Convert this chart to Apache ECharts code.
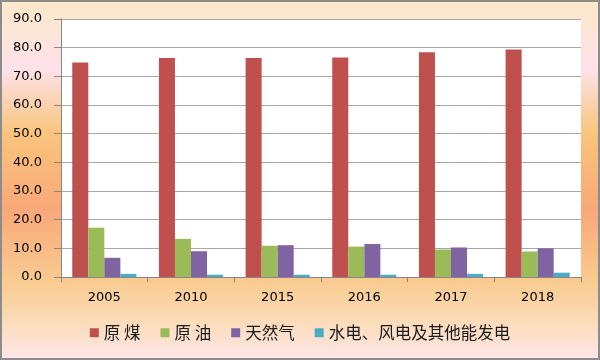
<!DOCTYPE html>
<html><head><meta charset="utf-8">
<script src="https://cdn.jsdelivr.net/npm/echarts@6/dist/echarts.min.js"></script>
<style>html,body{margin:0;padding:0;}#c{width:600px;height:360px;}</style>
</head><body><div id="c"></div>
<script>
const categories = ['2005','2010','2015','2016','2017','2018'];
const seriesNames = ['原 煤','原 油','天然气','水电、风电及其他能发电'];
const coal = [74.8, 76.4, 76.4, 76.6, 78.4, 79.4];
const oil = [17.2, 13.3, 10.9, 10.6, 9.6, 8.9];
const gas = [6.7, 9.0, 11.1, 11.5, 10.3, 10.0];
const other = [1.1, 0.8, 0.8, 0.8, 1.1, 1.5];
const colors = ['#C0504D','#9BBB59','#8064A2','#4BACC6'];
const chart = echarts.init(document.getElementById('c'));
const dataSets = [coal, oil, gas, other];
chart.setOption({
  animation: false,
  backgroundColor: new echarts.graphic.LinearGradient(0,0,0,1,[
    {offset:0, color:'#FBE8C8'},
    {offset:0.19, color:'#FDE2EA'},
    {offset:0.37, color:'#F9C47C'},
    {offset:0.58, color:'#F9A878'},
    {offset:0.79, color:'#F9CC92'},
    {offset:0.9, color:'#FBDDBC'},
    {offset:1, color:'#FDE6E8'}
  ]),
  grid: {left:61, right:19, top:19, bottom:83, show:true, backgroundColor:'#FFFFFF', borderWidth:0},
  legend: {
    bottom: 14, left: 'center', icon:'rect', itemWidth:9, itemHeight:9, itemGap:20,
    textStyle:{fontFamily:'Noto Sans CJK SC', fontSize:16.5, color:'#1a1a1a'},
    data: seriesNames
  },
  xAxis: {
    type:'category', data: categories,
    axisLine:{show:true, lineStyle:{color:'#868686', width:1}},
    axisTick:{show:true, alignWithLabel:false, length:5, lineStyle:{color:'#868686'}},
    axisLabel:{fontFamily:'DejaVu Sans', fontSize:13, color:'#000', margin:14}
  },
  yAxis: {
    type:'value', min:0, max:90, interval:10,
    axisLine:{show:true, lineStyle:{color:'#868686'}},
    axisTick:{show:true, length:7, lineStyle:{color:'#868686'}},
    splitLine:{show:true, lineStyle:{color:'#A8A8A8'}},
    axisLabel:{fontFamily:'DejaVu Sans', fontSize:13, color:'#000', margin:19, formatter: v => v.toFixed(1)}
  },
  graphic: [{type:'rect', shape:{x:1, y:1, width:598, height:358}, style:{fill:'none', stroke:'#8C8C8C', lineWidth:2}, z:100}],
  series: dataSets.map((d,i) => ({
    name: seriesNames[i], type:'bar', data:d, barGap:'0%', barCategoryGap:'26%',
    itemStyle:{color:colors[i]}
  }))
});
</script></body></html>
